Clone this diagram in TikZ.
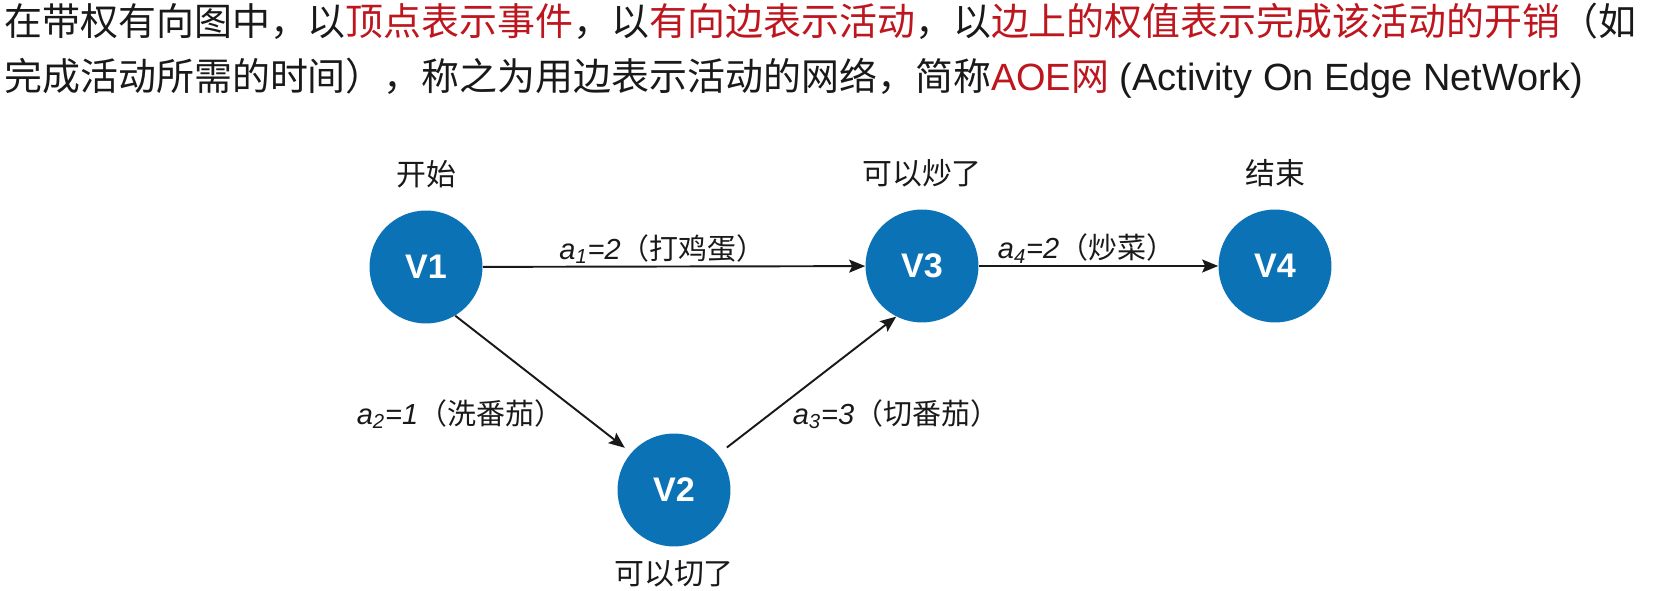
\documentclass[tikz,border=0pt]{standalone}
\usepackage{fontspec}
\setmainfont{Noto Sans CJK SC}
\newfontfamily\latin{Liberation Sans}
\usetikzlibrary{arrows.meta,positioning}
\definecolor{nodeblue}{RGB}{12,114,182}
\definecolor{hlred}{RGB}{190,22,30}

\begin{document}
\begin{tikzpicture}[x=0.02cm, y=-0.02cm,
  >={Stealth[length=0.32cm, width=0.26cm, inset=0.06cm]},
  ev/.style={circle, fill=nodeblue, minimum size=2.26cm, inner sep=0pt,
    text=white, font=\latin\bfseries\fontsize{19.4}{22}\selectfont},
  evname/.style={inner sep=0pt, text=black!90, font=\fontsize{17}{20}\selectfont},
  elabel/.style={inner sep=0pt, text=black!90, font=\fontsize{16.5}{19}\selectfont},
  act/.style={->, line width=1.1pt, black!90}]
  % 画布 (1658 x 591)
  \useasboundingbox (0,0) rectangle (1658,591);

  % 1. 上方的说明文字
  \node[anchor=base west, inner sep=0pt, text=black!90, font=\fontsize{21.6}{26}\selectfont] (intro1) at (4,36)
    {在带权有向图中，以\textcolor{hlred}{顶点表示事件}，以\textcolor{hlred}{有向边表示活动}，以\textcolor{hlred}{边上的权值表示完成该活动的开销}（如};
  \node[anchor=base west, inner sep=0pt, text=black!90, font=\fontsize{21.6}{26}\selectfont] (intro2) at (4,91)
    {完成活动所需的时间），称之为用边表示活动的网络，简称\textcolor{hlred}{{\latin AOE}网}{\latin\ (Activity On Edge NetWork)}};

  % 2. 顶点（事件）
  \node[ev] (V1) at (426,267) {V1};
  \node[ev] (V2) at (674,490) {V2};
  \node[ev] (V3) at (922,266) {V3};
  \node[ev] (V4) at (1275,266) {V4};

  % 3. 事件的说明
  \node[evname, above=0.44cm of V1] (n1) {开始};
  \node[evname, below=0.26cm of V2] (n2) {可以切了};
  \node[evname, above=0.44cm of V3] (n3) {可以炒了};
  \node[evname, above=0.44cm of V4] (n4) {结束};

  % 4. 有向边（活动）与权值
  \draw[act] (V1) -- (V3)
    node[elabel, pos=0.47, above=1pt] (w1) {{\latin\itshape a\textsubscript{1}=2}（打鸡蛋）};
  \draw[act, shorten >=0.16cm] (V1.-59) -- (V2.139);
  \draw[act, shorten <=0.22cm] (V2.39) -- (V3.243);
  \draw[act] (V3) -- (V4)
    node[elabel, pos=0.45, above=1pt] (w4) {{\latin\itshape a\textsubscript{4}=2}（炒菜）};
  \node[elabel] (w2) at (460,414) {{\latin\itshape a\textsubscript{2}=1}（洗番茄）};
  \node[elabel] (w3) at (896,414) {{\latin\itshape a\textsubscript{3}=3}（切番茄）};

\end{tikzpicture}
\end{document}
